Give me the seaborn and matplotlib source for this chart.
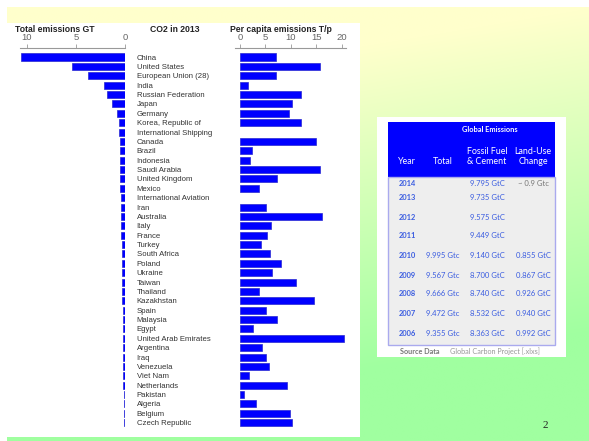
import numpy as np
import pandas as pd
import matplotlib
matplotlib.use("Agg")
import matplotlib.pyplot as plt
import seaborn as sns
from matplotlib.patches import Rectangle

# CO2 in 2013 - countries, total emissions (GT) and per capita (T/p)
countries = [
    "China", "United States", "European Union (28)", "India", "Russian Federation",
    "Japan", "Germany", "Korea, Republic of", "International Shipping", "Canada",
    "Brazil", "Indonesia", "Saudi Arabia", "United Kingdom", "Mexico",
    "International Aviation", "Iran", "Australia", "Italy", "France",
    "Turkey", "South Africa", "Poland", "Ukraine", "Taiwan",
    "Thailand", "Kazakhstan", "Spain", "Malaysia", "Egypt",
    "United Arab Emirates", "Argentina", "Iraq", "Venezuela", "Viet Nam",
    "Netherlands", "Pakistan", "Algeria", "Belgium", "Czech Republic",
]
total_gt = [
    10.55, 5.4, 3.8, 2.1, 1.8,
    1.35, 0.85, 0.62, 0.6, 0.55,
    0.5, 0.48, 0.5, 0.48, 0.47,
    0.45, 0.45, 0.4, 0.38, 0.36,
    0.35, 0.34, 0.32, 0.3, 0.3,
    0.28, 0.27, 0.25, 0.24, 0.22,
    0.21, 0.2, 0.18, 0.18, 0.17,
    0.17, 0.15, 0.14, 0.13, 0.11,
]
per_capita = [
    7.1, 15.7, 7.0, 1.6, 12.0,
    10.2, 9.7, 12.1, np.nan, 14.9,
    2.4, 2.0, 15.8, 7.2, 3.7,
    np.nan, 5.1, 16.1, 6.1, 5.4,
    4.2, 6.0, 8.1, 6.4, 11.1,
    3.7, 14.6, 5.1, 7.3, 2.5,
    20.5, 4.3, 5.2, 5.7, 1.8,
    9.2, 0.8, 3.2, 9.8, 10.2,
]

# Global emissions table
years = ["2014", "2013", "2012", "2011", "2010", "2009", "2008", "2007", "2006"]
table_total = ["", "", "", "", "9.995 Gtc", "9.567 Gtc", "9.666 Gtc", "9.472 Gtc", "9.355 Gtc"]
table_fossil = ["9.795 GtC", "9.735 GtC", "9.575 GtC", "9.449 GtC", "9.140 GtC",
                "8.700 GtC", "8.740 GtC", "8.532 GtC", "8.363 GtC"]
table_landuse = ["~ 0.9 Gtc", "", "", "", "0.855 GtC", "0.867 GtC", "0.926 GtC", "0.940 GtC", "0.992 GtC"]

df = pd.DataFrame({"country": countries, "total": total_gt, "per_capita": per_capita})

sns.set_theme(style="white")
plt.rcParams["font.family"] = ["Liberation Sans", "DejaVu Sans"]

W, H = 589, 441
fig = plt.figure(figsize=(W / 100, H / 100), dpi=100)


def px_rect(x0, y0, x1, y1):
    return [x0 / W, 1 - y1 / H, (x1 - x0) / W, (y1 - y0) / H]


# slide background
bg = fig.add_axes([0, 0, 1, 1])
ys = np.linspace(0, H, H)[:, None]
xs = np.linspace(0, W, W)[None, :]
t = np.clip((ys - 50) / 330 + (xs - 300) / 2000, 0, 1)
c0 = np.array([255, 255, 204]) / 255
c1 = np.array([160, 255, 160]) / 255
img = c0[None, None, :] * (1 - t[..., None]) + c1[None, None, :] * t[..., None]
bg.imshow(img, extent=(7, W, H, 7), aspect="auto", zorder=0)
bg.set_xlim(0, W)
bg.set_ylim(H, 0)
bg.axis("off")

# white chart panel
bg.add_patch(Rectangle((7, 23), 353, 414, fc="white", ec="none", zorder=1))

# left chart: total emissions
ax1 = fig.add_axes(px_rect(20, 48, 125, 432))
sns.barplot(data=df, x="total", y="country", order=countries, orient="h",
            color="#0000ff", saturation=1, width=0.75, errorbar=None,
            edgecolor="#2a2ad0", linewidth=0.5, ax=ax1)
ax1.set_xlim(10.68, 0)
ax1.set_ylim(39.99, -0.96)
ax1.set_xticks([10, 5, 0])
ax1.yaxis.tick_right()
ax1.set_yticks(range(len(countries)))
ax1.set_yticklabels(countries, fontsize=5.6, color="#333333")

# right chart: per capita emissions
ax2 = fig.add_axes(px_rect(235, 48, 346, 432))
sns.barplot(data=df, x="per_capita", y="country", order=countries, orient="h",
            color="#0000ff", saturation=1, width=0.75, errorbar=None,
            edgecolor="#2a2ad0", linewidth=0.5, ax=ax2)
ax2.set_xlim(-0.98, 20.87)
ax2.set_ylim(39.99, -0.96)
ax2.set_xticks([0, 5, 10, 15, 20])
ax2.set_yticks([])

for ax in (ax1, ax2):
    ax.set_facecolor("none")
    ax.set_xlabel("")
    ax.set_ylabel("")
    ax.xaxis.tick_top()
    ax.tick_params(axis="x", top=True, labeltop=True, bottom=False, labelbottom=False,
                   direction="out", length=3, width=0.6, color="#999999",
                   labelsize=6.8, labelcolor="#666666", pad=1)
    for side in ("bottom", "left", "right"):
        ax.spines[side].set_visible(False)
    ax.spines["top"].set_color("#999999")
    ax.spines["top"].set_linewidth(0.8)
ax1.tick_params(axis="y", length=0, pad=8.4, right=False, labelright=True)

fig.text(15 / W, 1 - 30 / H, "Total emissions GT", fontsize=6.2, fontweight="bold",
         ha="left", va="center", color="#222222")
fig.text(150 / W, 1 - 30 / H, "CO2 in 2013", fontsize=6.2, fontweight="bold",
         ha="left", va="center", color="#222222")
fig.text(230 / W, 1 - 30 / H, "Per capita emissions T/p", fontsize=6.2, fontweight="bold",
         ha="left", va="center", color="#222222")

# table panel
tfont = ["Lato", "DejaVu Sans"]
bg.add_patch(Rectangle((377, 117), 189, 240, fc="white", ec="none", zorder=1))
bg.add_patch(Rectangle((388, 122), 167, 55, fc="#0000ff", ec="none", zorder=2))
bg.add_patch(Rectangle((388, 177), 167, 168, fc="#eeeeee", ec="#aaaaee", lw=1, zorder=2))
bg.text(490, 129, "Global Emissions", fontsize=5.3, fontweight="bold", color="white",
        ha="center", va="center", family=tfont, zorder=3)
col_x = [407, 443, 487, 533]
headers = [("Year", 162), ("Total", 162), ("Fossil Fuel\n& Cement", 156.5), ("Land-Use\nChange", 156.5)]
for cx, (label, cy) in zip(col_x, headers):
    bg.text(cx, cy, label, fontsize=6.4, color="white", ha="center", va="center",
            family=tfont, linespacing=1.25, zorder=3)

row_y = [184, 198, 217, 236, 256, 275, 294, 314, 333]
for ry, yr, tot, fos, lu in zip(row_y, years, table_total, table_fossil, table_landuse):
    bg.text(col_x[0], ry, yr, fontsize=5.4, fontweight="bold", color="#3a5ce0",
            ha="center", va="center", family=tfont, zorder=3)
    bg.text(col_x[1], ry, tot, fontsize=5.5, color="#3a5ce0",
            ha="center", va="center", family=tfont, zorder=3)
    bg.text(col_x[2], ry, fos, fontsize=5.5, color="#3a5ce0",
            ha="center", va="center", family=tfont, zorder=3)
    bg.text(col_x[3], ry, lu, fontsize=5.5, color="#777777" if lu.startswith("~") else "#3a5ce0",
            ha="center", va="center", family=tfont, zorder=3)

bg.text(400, 351, "Source Data", fontsize=5.2, fontweight="bold", color="#777777",
        ha="left", va="center", family=tfont, zorder=3)
bg.text(450, 351, "Global Carbon Project [.xlxs]", fontsize=5.2, color="#999999",
        ha="left", va="center", family=tfont, zorder=3)

# slide number
bg.text(545, 426, "2", fontsize=8, color="#222222", ha="center", va="center",
        family=["Liberation Serif"], zorder=3)

fig.savefig("out.png", dpi=100)
